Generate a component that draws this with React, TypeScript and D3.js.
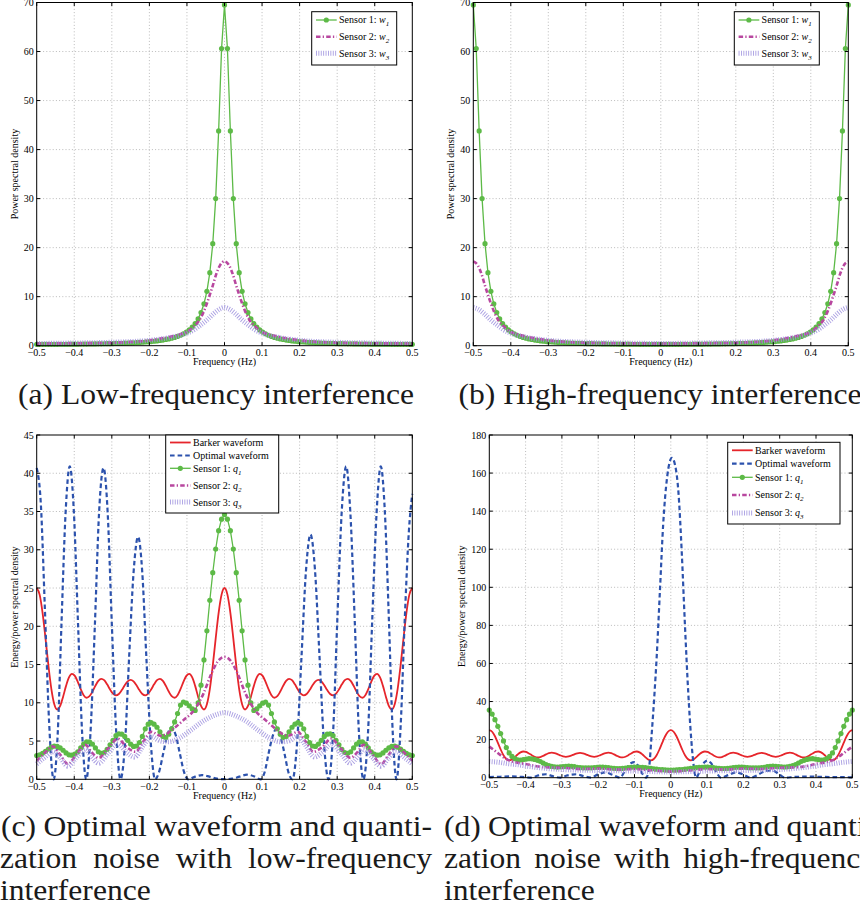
import React, { useEffect, useRef } from "react";
import * as d3 from "d3";

// frequency grid of the sampled (marker) series: 129 samples, step 1/128
const gridF = d3.range(129).map(i => -0.5 + i / 128);

const xTicks = [-0.5, -0.4, -0.3, -0.2, -0.1, 0, 0.1, 0.2, 0.3, 0.4, 0.5];
const yTicksAB = [0, 10, 20, 30, 40, 50, 60, 70];
const yTicksC = [0, 5, 10, 15, 20, 25, 30, 35, 40, 45];
const yTicksD = [0, 20, 40, 60, 80, 100, 120, 140, 160, 180];

// (a) low-frequency interference
const w1Low = [
    0.28, 0.28, 0.29, 0.29, 0.29, 0.29, 0.29, 0.29, 0.30, 0.30, 0.30, 0.31, 0.31, 0.32, 0.32,
    0.33, 0.33, 0.34, 0.35, 0.36, 0.37, 0.38, 0.39, 0.40, 0.41, 0.42, 0.44, 0.46, 0.47, 0.49,
    0.52, 0.54, 0.57, 0.59, 0.63, 0.66, 0.70, 0.75, 0.79, 0.85, 0.91, 0.98, 1.06, 1.15, 1.26,
    1.38, 1.52, 1.69, 1.89, 2.13, 2.42, 2.78, 3.22, 3.79, 4.51, 5.47, 6.76, 8.55, 11.1, 14.9,
    20.8, 30.0, 43.8, 60.6,
    69.5,
    60.6, 43.8, 30.0, 20.8, 14.9, 11.1, 8.55, 6.76, 5.47, 4.51, 3.79, 3.22, 2.78, 2.42, 2.13,
    1.89, 1.69, 1.52, 1.38, 1.26, 1.15, 1.06, 0.98, 0.91, 0.85, 0.79, 0.75, 0.70, 0.66, 0.63,
    0.59, 0.57, 0.54, 0.52, 0.49, 0.47, 0.46, 0.44, 0.42, 0.41, 0.40, 0.39, 0.38, 0.37, 0.36,
    0.35, 0.34, 0.33, 0.33, 0.32, 0.32, 0.31, 0.31, 0.30, 0.30, 0.30, 0.29, 0.29, 0.29, 0.29,
    0.29, 0.29, 0.28, 0.28
];
const w2LowF = [-0.5, -0.4, -0.3, -0.25, -0.2, -0.175, -0.15, -0.125, -0.1, -0.082, -0.066, -0.055, -0.046, -0.039, -0.031, -0.022, -0.012, 0,
    0.012, 0.022, 0.031, 0.039, 0.046, 0.055, 0.066, 0.082, 0.1, 0.125, 0.15, 0.175, 0.2, 0.25, 0.3, 0.4, 0.5];
const w2LowV = [0.45, 0.5, 0.6, 0.75, 1.1, 1.4, 1.75, 2.2, 2.8, 3.9, 5.3, 7.0, 8.8, 10.4, 12.3, 14.6, 16.4, 17.2,
    16.4, 14.6, 12.3, 10.4, 8.8, 7.0, 5.3, 3.9, 2.8, 2.2, 1.75, 1.4, 1.1, 0.75, 0.6, 0.5, 0.45];
const w3LowF = [-0.5, -0.4, -0.3, -0.2, -0.15, -0.11, -0.08, -0.064, -0.046, -0.028, -0.012, 0,
    0.012, 0.028, 0.046, 0.064, 0.08, 0.11, 0.15, 0.2, 0.3, 0.4, 0.5];
const w3LowV = [0.45, 0.55, 0.7, 1.1, 1.6, 2.3, 3.3, 4.2, 5.3, 6.6, 7.5, 7.8,
    7.5, 6.6, 5.3, 4.2, 3.3, 2.3, 1.6, 1.1, 0.7, 0.55, 0.45];

// (b) high-frequency interference
const w1High = [
    69.5, 60.6, 43.8, 30.0, 20.8, 14.9, 11.1, 8.55, 6.76, 5.47, 4.51, 3.79, 3.22, 2.78, 2.42,
    2.13, 1.89, 1.69, 1.52, 1.38, 1.26, 1.15, 1.06, 0.98, 0.91, 0.85, 0.79, 0.75, 0.70, 0.66,
    0.63, 0.59, 0.57, 0.54, 0.52, 0.49, 0.47, 0.46, 0.44, 0.42, 0.41, 0.40, 0.39, 0.38, 0.37,
    0.36, 0.35, 0.34, 0.33, 0.33, 0.32, 0.32, 0.31, 0.31, 0.30, 0.30, 0.30, 0.29, 0.29, 0.29,
    0.29, 0.29, 0.29, 0.28, 0.28,
    0.28, 0.29, 0.29, 0.29, 0.29, 0.29, 0.29, 0.30, 0.30, 0.30, 0.31, 0.31, 0.32, 0.32, 0.33,
    0.33, 0.34, 0.35, 0.36, 0.37, 0.38, 0.39, 0.40, 0.41, 0.42, 0.44, 0.46, 0.47, 0.49, 0.52,
    0.54, 0.57, 0.59, 0.63, 0.66, 0.70, 0.75, 0.79, 0.85, 0.91, 0.98, 1.06, 1.15, 1.26, 1.38,
    1.52, 1.69, 1.89, 2.13, 2.42, 2.78, 3.22, 3.79, 4.51, 5.47, 6.76, 8.55, 11.1, 14.9, 20.8,
    30.0, 43.8, 60.6, 69.5
];
const w2HighF = [-0.5, -0.488, -0.478, -0.469, -0.461, -0.454, -0.445, -0.434, -0.418, -0.4, -0.375, -0.35, -0.325, -0.3, -0.25, -0.2, -0.1, 0,
    0.1, 0.2, 0.25, 0.3, 0.325, 0.35, 0.375, 0.4, 0.418, 0.434, 0.445, 0.454, 0.461, 0.469, 0.478, 0.488, 0.5];
const w2HighV = [17.2, 16.4, 14.6, 12.3, 10.4, 8.8, 7.0, 5.3, 3.9, 2.8, 2.2, 1.75, 1.4, 1.1, 0.75, 0.6, 0.5, 0.45,
    0.5, 0.6, 0.75, 1.1, 1.4, 1.75, 2.2, 2.8, 3.9, 5.3, 7.0, 8.8, 10.4, 12.3, 14.6, 16.4, 17.2];
const w3HighF = [-0.5, -0.488, -0.472, -0.454, -0.436, -0.42, -0.39, -0.35, -0.3, -0.2, -0.1, 0,
    0.1, 0.2, 0.3, 0.35, 0.39, 0.42, 0.436, 0.454, 0.472, 0.488, 0.5];
const w3HighV = [7.8, 7.5, 6.6, 5.3, 4.2, 3.3, 2.3, 1.6, 1.1, 0.7, 0.55, 0.45,
    0.55, 0.7, 1.1, 1.6, 2.3, 3.3, 4.2, 5.3, 6.6, 7.5, 7.8];

// Barker waveform (same in c and d)
const barker = [
    25, 24.14, 21.76, 18.42, 14.85, 11.80, 9.81, 9.12, 9.59, 10.80, 12.21, 13.31, 13.77, 13.52, 12.74,
    11.78, 11.00, 10.66, 10.86, 11.47, 12.23, 12.86, 13.13, 12.95, 12.41, 11.74, 11.19, 10.97, 11.15, 11.66,
    12.29, 12.80, 13.00, 12.80, 12.29, 11.66, 11.15, 10.97, 11.19, 11.74, 12.41, 12.95, 13.13, 12.86, 12.23,
    11.47, 10.86, 10.66, 11.00, 11.78, 12.74, 13.52, 13.77, 13.31, 12.21, 10.80, 9.59, 9.12, 9.81, 11.80,
    14.85, 18.42, 21.76, 24.14, 25,
    24.14, 21.76, 18.42, 14.85, 11.80, 9.81, 9.12, 9.59, 10.80, 12.21, 13.31, 13.77, 13.52, 12.74, 11.78,
    11.00, 10.66, 10.86, 11.47, 12.23, 12.86, 13.13, 12.95, 12.41, 11.74, 11.19, 10.97, 11.15, 11.66, 12.29,
    12.80, 13.00, 12.80, 12.29, 11.66, 11.15, 10.97, 11.19, 11.74, 12.41, 12.95, 13.13, 12.86, 12.23, 11.47,
    10.86, 10.66, 11.00, 11.78, 12.74, 13.52, 13.77, 13.31, 12.21, 10.80, 9.59, 9.12, 9.81, 11.80, 14.85,
    18.42, 21.76, 24.14, 25
];

// (c) optimal waveform, low-frequency interference
const optLowF = [-0.5, -0.489, -0.478, -0.467, -0.455, -0.444, -0.434, -0.423, -0.412, -0.401, -0.39, -0.379, -0.368,
    -0.357, -0.345, -0.334, -0.322, -0.311, -0.3, -0.288, -0.277, -0.265, -0.254, -0.242, -0.23, -0.219, -0.208,
    -0.196, -0.185, -0.174, -0.163, -0.152, -0.141, -0.13, -0.119, -0.108, -0.097, -0.078, -0.06, -0.04, -0.02, 0,
    0.02, 0.04, 0.06, 0.078, 0.096, 0.107, 0.117, 0.128, 0.138, 0.149, 0.16, 0.17, 0.181, 0.193, 0.205, 0.217,
    0.229, 0.241, 0.253, 0.265, 0.277, 0.289, 0.3, 0.312, 0.324, 0.335, 0.347, 0.358, 0.37, 0.382, 0.393, 0.405,
    0.416, 0.427, 0.438, 0.448, 0.458, 0.469, 0.48, 0.491, 0.5];
const optLowV = [40.7, 36.0, 22.0, 7.5, 0, 6.0, 20.4, 34.9, 40.9, 34.9, 20.4, 6.0, 0,
    5.9, 20.3, 34.8, 40.7, 34.8, 20.3, 5.9, 0, 4.6, 15.9, 27.1, 31.7, 27.1, 15.9,
    4.6, 0, 1.0, 3.4, 5.8, 6.8, 5.8, 3.4, 1.0, 0, 0.35, 0.55, 0.35, 0.08, 0.02,
    0.08, 0.35, 0.6, 0.4, 0, 0.95, 3.3, 5.6, 6.6, 5.6, 3.3, 0.95, 0, 4.6, 16.0, 27.3,
    32.0, 27.3, 16.0, 4.6, 0, 6.0, 20.4, 34.9, 40.9, 34.9, 20.4, 6.0, 0, 6.0, 20.4, 34.9,
    40.9, 34.9, 20.4, 6.0, 0, 7.0, 21.0, 32.5, 37.3];
const q1Low = [
    3.1, 3.2, 3.4, 3.65, 3.95, 4.2, 4.35, 4.3, 4.1, 3.8, 3.45, 3.2, 3.15, 3.3, 3.6,
    4.1, 4.6, 4.9, 4.9, 4.6, 4.1, 3.6, 3.4, 3.5, 3.9, 4.5, 5.1, 5.7, 5.95, 5.9,
    5.6, 5.1, 4.6, 4.3, 4.35, 4.8, 5.6, 6.6, 7.2, 7.4, 7.2, 6.8, 6.2, 5.6, 5.45,
    5.9, 6.6, 7.5, 8.6, 9.7, 10.1, 9.95, 9.6, 9.2, 9.0, 10.0, 12.3, 15.6, 19.4, 23.4,
    27.0, 30.1, 32.5, 34.0,
    34.6,
    34.0, 32.5, 30.1, 27.0, 23.4, 19.4, 15.6, 12.3, 10.0, 9.0, 9.2, 9.6, 9.95, 10.1, 9.7,
    8.6, 7.5, 6.6, 5.9, 5.45, 5.6, 6.2, 6.8, 7.2, 7.4, 7.2, 6.6, 5.6, 4.8, 4.35,
    4.3, 4.6, 5.1, 5.6, 5.9, 5.95, 5.7, 5.1, 4.5, 3.9, 3.5, 3.4, 3.6, 4.1, 4.6,
    4.9, 4.9, 4.6, 4.1, 3.6, 3.3, 3.15, 3.2, 3.45, 3.8, 4.1, 4.3, 4.35, 4.2, 3.95,
    3.65, 3.4, 3.2, 3.1
];
const q2LowF = [-0.5, -0.48, -0.457, -0.437, -0.417, -0.395, -0.37, -0.355, -0.335, -0.31, -0.284, -0.26, -0.237,
    -0.215, -0.195, -0.17, -0.155, -0.136, -0.11, -0.08, -0.056, -0.035, -0.018, 0,
    0.018, 0.035, 0.056, 0.08, 0.11, 0.136, 0.155, 0.17, 0.195, 0.215, 0.237, 0.26, 0.284,
    0.31, 0.335, 0.355, 0.37, 0.395, 0.417, 0.437, 0.457, 0.48, 0.5];
const q2LowV = [2.4, 3.4, 4.3, 3.2, 2.0, 3.2, 4.5, 3.6, 2.8, 4.0, 5.3, 4.2, 3.6,
    5.0, 6.2, 5.7, 5.9, 6.6, 7.7, 9.1, 11.2, 13.8, 15.4, 16.0,
    15.4, 13.8, 11.2, 9.1, 7.7, 6.6, 5.9, 5.7, 6.2, 5.0, 3.6, 4.2, 5.3,
    4.0, 2.8, 3.6, 4.5, 3.2, 2.0, 3.2, 4.3, 3.4, 2.4];
const q3LowF = [-0.5, -0.48, -0.456, -0.437, -0.417, -0.395, -0.37, -0.355, -0.335, -0.31, -0.285, -0.26, -0.24,
    -0.215, -0.195, -0.17, -0.15, -0.12, -0.09, -0.06, -0.03, 0,
    0.03, 0.06, 0.09, 0.12, 0.15, 0.17, 0.195, 0.215, 0.24, 0.26, 0.285, 0.31, 0.335,
    0.355, 0.37, 0.395, 0.417, 0.437, 0.456, 0.48, 0.5];
const q3LowV = [2.0, 2.8, 3.6, 2.8, 1.7, 2.8, 3.9, 3.0, 2.1, 3.4, 4.6, 3.5, 2.9,
    4.5, 5.6, 5.0, 4.9, 5.4, 6.4, 7.5, 8.3, 8.7,
    8.3, 7.5, 6.4, 5.4, 4.9, 5.0, 5.6, 4.5, 2.9, 3.5, 4.6, 3.4, 2.1,
    3.0, 3.9, 2.8, 1.7, 2.8, 3.6, 2.8, 2.0];

// (d) optimal waveform, high-frequency interference
const optHighF = [-0.5, -0.47, -0.44, -0.41, -0.385, -0.365, -0.345, -0.325, -0.305, -0.285, -0.26, -0.24, -0.22,
    -0.2, -0.18, -0.16, -0.14, -0.125, -0.11, -0.1, -0.09, -0.078, -0.068, -0.06, -0.053, -0.045, -0.039, -0.03,
    -0.021, -0.01, 0.003, 0.012, 0.021, 0.03, 0.039, 0.048, 0.056, 0.062, 0.07, 0.08, 0.092, 0.1, 0.11, 0.125,
    0.138, 0.16, 0.18, 0.2, 0.22, 0.24, 0.26, 0.28, 0.3, 0.315, 0.34, 0.38, 0.42, 0.46, 0.5];
const optHighV = [0.3, 0.5, 0.7, 0.4, 0.05, 1.2, 1.8, 0.8, 0.05, 1.2, 1.8, 0.8, 0.05,
    1.8, 2.8, 1.5, 0.05, 4.0, 7.6, 8.2, 6.3, 2.0, 0, 5, 22, 44, 63, 98,
    133, 158, 168, 164, 150, 119, 80, 45, 21, 8, 0, 3.5, 8.0, 9.0, 7.8, 3.0,
    0.05, 1.5, 2.8, 1.6, 0.05, 1.5, 3.5, 3.8, 1.5, 0.05, 0.4, 0.6, 0.4, 0.3, 0.2];
const q1High = [
    35.5, 33.4, 30.5, 27.0, 23.2, 19.3, 15.8, 13.0, 11.2, 10.0, 9.4, 9.3, 9.5, 9.8, 10.0,
    9.9, 9.6, 9.1, 8.5, 7.7, 6.9, 6.3, 5.9, 5.7, 5.6, 5.7, 5.8, 6.0, 6.1, 6.0,
    5.8, 5.5, 5.3, 5.2, 5.2, 5.2, 5.2, 5.3, 5.5, 5.6, 5.6, 5.5, 5.3, 5.1, 4.9,
    4.8, 4.8, 4.9, 5.1, 5.3, 5.5, 5.6, 5.6, 5.5, 5.4, 5.3, 5.1, 4.9, 4.7, 4.5,
    4.3, 4.2, 4.1, 4.0,
    4.0,
    4.0, 4.1, 4.2, 4.3, 4.5, 4.7, 4.9, 5.1, 5.3, 5.4, 5.5, 5.6, 5.6, 5.5, 5.3,
    5.1, 4.9, 4.8, 4.8, 4.9, 5.1, 5.3, 5.5, 5.6, 5.6, 5.5, 5.3, 5.2, 5.2, 5.2,
    5.2, 5.3, 5.5, 5.8, 6.0, 6.1, 6.0, 5.8, 5.7, 5.6, 5.7, 5.9, 6.3, 6.9, 7.7,
    8.5, 9.1, 9.6, 9.9, 10.0, 9.8, 9.5, 9.3, 9.4, 10.0, 11.2, 13.0, 15.8, 19.3, 23.2,
    27.0, 30.5, 33.4, 35.5
];
const q2HighF = [-0.5, -0.485, -0.47, -0.45, -0.43, -0.4, -0.37, -0.35, -0.3, -0.25, -0.2, -0.15, -0.1, -0.05, 0,
    0.05, 0.1, 0.15, 0.2, 0.25, 0.3, 0.35, 0.37, 0.4, 0.43, 0.45, 0.47, 0.485, 0.5];
const q2HighV = [16.3, 14.2, 12.0, 9.5, 8.2, 7.2, 6.0, 5.5, 5.2, 4.6, 4.8, 4.3, 4.5, 3.8, 3.2,
    3.8, 4.5, 4.3, 4.8, 4.6, 5.2, 5.5, 6.0, 7.2, 8.2, 9.5, 12.0, 14.2, 16.3];
const q3HighF = [-0.5, -0.47, -0.45, -0.42, -0.4, -0.35, -0.3, -0.2, -0.1, 0, 0.1, 0.2, 0.3, 0.35, 0.4, 0.42, 0.45, 0.47, 0.5];
const q3HighV = [8.5, 8.0, 7.4, 6.8, 6.2, 5.0, 4.3, 3.8, 3.5, 3.0, 3.5, 3.8, 4.3, 5.0, 6.2, 6.8, 7.4, 8.0, 8.5];

const FONT = "'Liberation Serif', 'Times New Roman', Times, serif";

const STYLE: Record<string, any> = {
    green: { color: "#5dba47", width: 1.3, marker: true },
    magenta: { color: "#b8479f", width: 2.6, dash: "4.5 2.2 1.3 2.2" },
    purple: { color: "#a093df", width: 5, dash: "0.9 1.5", opacity: 0.9 },
    red: { color: "#e6252b", width: 1.8 },
    blue: { color: "#2c52ad", width: 2.2, dash: "4.6 3" },
};

const sensorLegend = (v: string) => [
    { kind: "green", text: "Sensor 1: ", v, sub: "1" },
    { kind: "magenta", text: "Sensor 2: ", v, sub: "2" },
    { kind: "purple", text: "Sensor 3: ", v, sub: "3" },
];

const panels = [
    {
        x0: 36.7, x1: 412.3, y0: 2.5, y1: 345.7, yMax: 70, yTicks: yTicksAB,
        yLabel: "Power spectral density", yLabelX: 17.5,
        series: [
            { f: gridF, v: w1Low, kind: "green" },
            { f: w2LowF, v: w2LowV, kind: "magenta", smooth: true },
            { f: w3LowF, v: w3LowV, kind: "purple", smooth: true },
        ],
        legend: { x: 311.7, y: 11.7, w: 85, h: 53.3, rows: [8.3, 25, 41.6], items: sensorLegend("w") },
    },
    {
        x0: 473.3, x1: 848.3, y0: 2.5, y1: 345.7, yMax: 70, yTicks: yTicksAB,
        yLabel: "Power spectral density", yLabelX: 454,
        series: [
            { f: gridF, v: w1High, kind: "green" },
            { f: w2HighF, v: w2HighV, kind: "magenta", smooth: true },
            { f: w3HighF, v: w3HighV, kind: "purple", smooth: true },
        ],
        legend: { x: 734.3, y: 11.7, w: 85, h: 53.3, rows: [8.3, 25, 41.6], items: sensorLegend("w") },
    },
    {
        x0: 36.7, x1: 412.3, y0: 435, y1: 779.3, yMax: 45, yTicks: yTicksC,
        yLabel: "Energy/power spectral density", yLabelX: 17.5,
        series: [
            { f: gridF, v: barker, kind: "red", smooth: true },
            { f: optLowF, v: optLowV, kind: "blue", smooth: true },
            { f: gridF, v: q1Low, kind: "green" },
            { f: q2LowF, v: q2LowV, kind: "magenta", smooth: true },
            { f: q3LowF, v: q3LowV, kind: "purple", smooth: true },
        ],
        legend: {
            x: 165.7, y: 435, w: 113, h: 78, rows: [7.5, 20.5, 33.3, 50.5, 67],
            items: [{ kind: "red", text: "Barker waveform" }, { kind: "blue", text: "Optimal waveform" }, ...sensorLegend("q")],
        },
    },
    {
        x0: 489.3, x1: 852.3, y0: 435, y1: 777.7, yMax: 180, yTicks: yTicksD,
        yLabel: "Energy/power spectral density", yLabelX: 465,
        series: [
            { f: gridF, v: barker, kind: "red", smooth: true },
            { f: optHighF, v: optHighV, kind: "blue", smooth: true },
            { f: gridF, v: q1High, kind: "green" },
            { f: q2HighF, v: q2HighV, kind: "magenta", smooth: true },
            { f: q3HighF, v: q3HighV, kind: "purple", smooth: true },
        ],
        legend: {
            x: 727.7, y: 442.3, w: 112.3, h: 81.7, rows: [8, 21.4, 35, 52.7, 70.7],
            items: [{ kind: "red", text: "Barker waveform" }, { kind: "blue", text: "Optimal waveform" }, ...sensorLegend("q")],
        },
    },
];

const captionLines = [
    { text: "(a) Low-frequency interference", x: 216, y: 403.5, mode: "center" },
    { text: "(b) High-frequency interference", x: 660, y: 403.5, mode: "center" },
    { text: "(c) Optimal waveform and quanti-", x: 1, y: 836, mode: "justify", width: 431 },
    { text: "zation noise with low-frequency", x: 0, y: 868, mode: "justify", width: 432 },
    { text: "interference", x: 0, y: 900, mode: "left" },
    { text: "(d) Optimal waveform and quanti-", x: 444, y: 836, mode: "justify", width: 432 },
    { text: "zation noise with high-frequency", x: 444, y: 868, mode: "justify", width: 432 },
    { text: "interference", x: 444, y: 900, mode: "left" },
];

const tickText = (d: number) => (d < 0 ? "\u2212" + String(-d) : String(d));

function strokeStyle(sel, kind) {
    const st = STYLE[kind];
    return sel
        .attr("fill", "none")
        .attr("stroke", st.color)
        .attr("stroke-width", st.width)
        .attr("stroke-dasharray", st.dash ?? null)
        .attr("stroke-opacity", st.opacity ?? 1)
        .attr("stroke-linejoin", "round");
}

function drawPanel(svg, p) {
    const x = d3.scaleLinear().domain([-0.5, 0.5]).range([p.x0, p.x1]);
    const y = d3.scaleLinear().domain([0, p.yMax]).range([p.y1, p.y0]);
    const g = svg.append("g");

    // dotted grid
    g.selectAll(".vgrid")
        .data(xTicks.slice(1, -1))
        .join("line")
        .attr("class", "vgrid")
        .attr("x1", d => x(d)).attr("x2", d => x(d))
        .attr("y1", p.y0).attr("y2", p.y1)
        .attr("stroke", "#a9a9a9").attr("stroke-width", 0.8).attr("stroke-dasharray", "1 2.2");
    g.selectAll(".hgrid")
        .data(p.yTicks.slice(1, -1))
        .join("line")
        .attr("class", "hgrid")
        .attr("x1", p.x0).attr("x2", p.x1)
        .attr("y1", d => y(d)).attr("y2", d => y(d))
        .attr("stroke", "#a9a9a9").attr("stroke-width", 0.8).attr("stroke-dasharray", "1 2.2");

    // series
    p.series.forEach(s => {
        const pts = s.f.map((f, i) => [x(f), y(s.v[i])]);
        const line = d3.line().curve(s.smooth ? d3.curveMonotoneX : d3.curveLinear);
        strokeStyle(g.append("path").attr("d", line(pts)), s.kind);
        if (STYLE[s.kind].marker) {
            g.selectAll(null).data(pts).enter().append("circle")
                .attr("cx", d => d[0]).attr("cy", d => d[1]).attr("r", 2.6)
                .attr("fill", STYLE[s.kind].color);
        }
    });

    // frame + inward ticks
    g.append("rect")
        .attr("x", p.x0).attr("y", p.y0)
        .attr("width", p.x1 - p.x0).attr("height", p.y1 - p.y0)
        .attr("fill", "none").attr("stroke", "#000").attr("stroke-width", 1);
    const tk = 3.5;
    xTicks.forEach(t => {
        g.append("line").attr("x1", x(t)).attr("x2", x(t)).attr("y1", p.y1).attr("y2", p.y1 - tk).attr("stroke", "#000");
        g.append("line").attr("x1", x(t)).attr("x2", x(t)).attr("y1", p.y0).attr("y2", p.y0 + tk).attr("stroke", "#000");
    });
    p.yTicks.forEach(t => {
        g.append("line").attr("x1", p.x0).attr("x2", p.x0 + tk).attr("y1", y(t)).attr("y2", y(t)).attr("stroke", "#000");
        g.append("line").attr("x1", p.x1).attr("x2", p.x1 - tk).attr("y1", y(t)).attr("y2", y(t)).attr("stroke", "#000");
    });

    // tick labels
    g.selectAll(".xlab")
        .data(xTicks)
        .join("text")
        .attr("class", "xlab")
        .attr("x", d => x(d)).attr("y", p.y1 + 10.5)
        .attr("text-anchor", "middle")
        .style("font-family", FONT).style("font-size", "10px")
        .text(tickText);
    g.selectAll(".ylab")
        .data(p.yTicks)
        .join("text")
        .attr("class", "ylab")
        .attr("x", p.x0 - 3).attr("y", d => y(d)).attr("dy", "0.35em")
        .attr("text-anchor", "end")
        .style("font-family", FONT).style("font-size", "10px")
        .text(d => String(d));

    // axis titles
    g.append("text")
        .attr("x", (p.x0 + p.x1) / 2).attr("y", p.y1 + 19.5)
        .attr("text-anchor", "middle")
        .style("font-family", FONT).style("font-size", "10px")
        .text("Frequency (Hz)");
    g.append("text")
        .attr("transform", `translate(${p.yLabelX},${(p.y0 + p.y1) / 2}) rotate(-90)`)
        .attr("text-anchor", "middle")
        .style("font-family", FONT).style("font-size", "10px")
        .text(p.yLabel);

    // legend
    const L = p.legend;
    const lg = g.append("g").attr("transform", `translate(${L.x},${L.y})`);
    lg.append("rect").attr("width", L.w).attr("height", L.h)
        .attr("fill", "#fff").attr("stroke", "#000").attr("stroke-width", 1);
    L.items.forEach((it, i) => {
        const ry = L.rows[i];
        strokeStyle(lg.append("line").attr("x1", 4.3).attr("x2", 25).attr("y1", ry).attr("y2", ry), it.kind);
        if (STYLE[it.kind].marker) {
            lg.append("circle").attr("cx", 14.6).attr("cy", ry).attr("r", 2.6).attr("fill", STYLE[it.kind].color);
        }
        const t = lg.append("text")
            .attr("x", 27.3).attr("y", ry + 3.5)
            .style("font-family", FONT).style("font-size", "10px");
        t.append("tspan").text(it.text);
        if (it.v) {
            t.append("tspan").style("font-style", "italic").text(it.v);
            t.append("tspan").style("font-style", "italic").style("font-size", "7px").attr("dy", 3).text(it.sub);
        }
    });
}

function drawCaptions(svg) {
    const stretch = 1.07;
    const g = svg.append("g").style("font-family", FONT).style("font-size", "29.5px").attr("fill", "#1a1a1a");
    captionLines.forEach(c => {
        if (c.mode === "justify") {
            const words = c.text.split(" ");
            const nodes = words.map(w => g.append("text").attr("y", c.y).text(w));
            const widths = nodes.map(n => n.node().getComputedTextLength() * stretch);
            const gap = (c.width - d3.sum(widths)) / (words.length - 1);
            let cx = c.x;
            nodes.forEach((n, i) => {
                n.attr("x", cx).attr("textLength", widths[i]).attr("lengthAdjust", "spacingAndGlyphs");
                cx += widths[i] + gap;
            });
        } else {
            const t = g.append("text").attr("y", c.y).text(c.text);
            const w = t.node().getComputedTextLength() * stretch;
            t.attr("x", c.mode === "center" ? c.x - w / 2 : c.x)
                .attr("textLength", w).attr("lengthAdjust", "spacingAndGlyphs");
        }
    });
}

export default function App() {
    const svgRef = useRef(null);

    useEffect(() => {
        const svg = d3.select(svgRef.current);
        svg.selectAll("*").remove();
        svg.append("rect").attr("width", 860).attr("height", 917).attr("fill", "#fff");
        panels.forEach(p => drawPanel(svg, p));
        drawCaptions(svg);
    }, []);

    return (
        <svg
            ref={svgRef}
            width={860}
            height={917}
            style={{ position: "absolute", left: 0, top: 0, display: "block" }}
        />
    );
}
